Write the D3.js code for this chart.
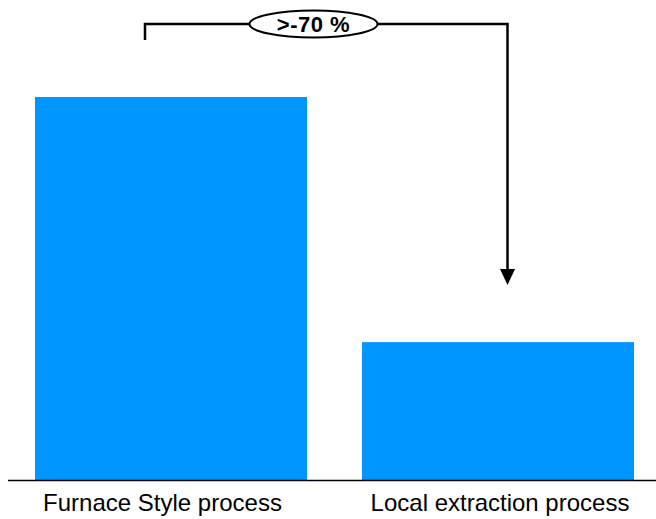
<!DOCTYPE html>
<html>
<head>
<meta charset="utf-8">
<script src="https://cdn.jsdelivr.net/npm/d3@7"></script>
<style>
  html, body { margin: 0; padding: 0; background: #fff; }
  svg { display: block; }
  text { font-family: Arial, "Liberation Sans", sans-serif; }
</style>
</head>
<body>
<svg id="chart" width="656" height="519"></svg>
<script>
// Process categories and relative energy use (furnace process = 100)
const categories = ["Furnace Style process", "Local extraction process"];
const values = [100, 36];
const reductionLabel = ">-70 %";

const W = 656, H = 519;
const svg = d3.select("#chart");

const x = d3.scaleBand()
  .domain(categories)
  .range([35, 634])
  .paddingInner(55 / 327)
  .paddingOuter(0);

const y = d3.scaleLinear()
  .domain([0, 100])
  .range([480, 97]);

// Bars
svg.append("g")
  .selectAll("rect")
  .data(categories)
  .join("rect")
  .attr("x", d => x(d))
  .attr("y", (d, i) => y(values[i]))
  .attr("width", x.bandwidth())
  .attr("height", (d, i) => y(0) - y(values[i]))
  .attr("fill", "#0096ff");

// Baseline
svg.append("line")
  .attr("x1", 8).attr("x2", W)
  .attr("y1", y(0) + 0.5).attr("y2", y(0) + 0.5)
  .attr("stroke", "#000")
  .attr("stroke-width", 1.5);

// Category labels (first one sits slightly left of its bar's centre)
const labelShift = [-8.5, 2];
svg.append("g")
  .selectAll("text")
  .data(categories)
  .join("text")
  .attr("x", (d, i) => x(d) + x.bandwidth() / 2 + labelShift[i])
  .attr("y", 511)
  .attr("text-anchor", "middle")
  .attr("font-size", 24)
  .attr("fill", "#000")
  .text(d => d);

// Reduction bracket: from above the first bar across to an arrow pointing at the second
const bracketY = 24;
const leftX = 145, rightX = 507.5;
const arrowTip = 285;
svg.append("path")
  .attr("d", `M${leftX},40 V${bracketY} H${rightX} V${arrowTip - 14}`)
  .attr("fill", "none")
  .attr("stroke", "#000")
  .attr("stroke-width", 2.5);

svg.append("path")
  .attr("d", `M${rightX - 7.5},${arrowTip - 16} L${rightX + 7.5},${arrowTip - 16} L${rightX},${arrowTip} Z`)
  .attr("fill", "#000");

// Label ellipse on the bracket
const cx = 313.5;
svg.append("ellipse")
  .attr("cx", cx).attr("cy", bracketY)
  .attr("rx", 64).attr("ry", 13.5)
  .attr("fill", "#fff")
  .attr("stroke", "#000")
  .attr("stroke-width", 2);

svg.append("text")
  .attr("x", cx)
  .attr("y", bracketY + 8)
  .attr("text-anchor", "middle")
  .attr("font-size", 22)
  .attr("font-weight", "bold")
  .attr("letter-spacing", 0.5)
  .attr("fill", "#000")
  .text(reductionLabel);
</script>
</body>
</html>
